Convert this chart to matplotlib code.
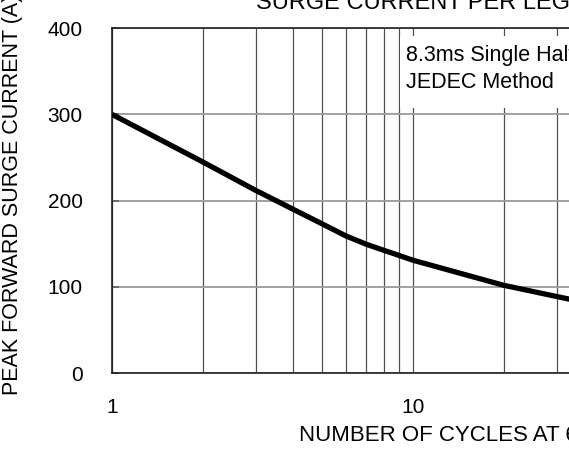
import matplotlib
matplotlib.use("Agg")
import matplotlib.pyplot as plt
import matplotlib.patches as patches

plt.rcParams['font.family'] = ['Liberation Sans', 'DejaVu Sans']

# data
cycles = [1, 2, 3, 4, 5, 6, 7, 8, 9, 10, 20, 30, 40]
current = [300, 245, 212, 190, 173, 159, 149.5, 142.5, 136.5, 131, 102, 89, 80]

yticks = [0, 100, 200, 300, 400]
xticks = [1, 10, 100]
xtick_labels = ['1', '10', '100']

fig = plt.figure(figsize=(5.69, 4.5), dpi=100)
# axes runs past the right edge of the picture (as in the reference)
ax = fig.add_axes([0.1968, 0.1704, 1.058, 0.7673])

ax.set_xscale('log')
ax.set_xlim(1, 100)
ax.set_ylim(0, 400)

# grid
ax.grid(True, which='both', axis='x', color='#505050', lw=0.9)
ax.grid(True, which='major', axis='y', color='#a0a0a0', lw=1.4)
ax.set_axisbelow(True)

ax.plot(cycles, current, color='black', lw=3.8, solid_capstyle='butt', zorder=3)

ax.set_yticks(yticks)
ax.set_yticklabels([str(v) for v in yticks])
ax.set_xticks(xticks)
ax.set_xticklabels(xtick_labels)
ax.tick_params(axis='y', direction='in', length=5, width=1.2, color='#606060',
               labelsize=15, pad=21)
ax.tick_params(axis='x', which='both', length=0, labelsize=15, pad=18)
ax.xaxis.set_minor_formatter(matplotlib.ticker.NullFormatter())

for s in ax.spines.values():
    s.set_linewidth(1.2)
    s.set_color('#202020')

# white box behind the note
box = patches.Rectangle((0.478, 0.768), 0.6, 0.209, transform=ax.transAxes,
                        facecolor='white', edgecolor='none', zorder=2)
ax.add_patch(box)
ax.text(0.489, 0.952, '8.3ms Single Half-Sine-Wave\nJEDEC Method',
        transform=ax.transAxes, ha='left', va='top', fontsize=15.5,
        linespacing=1.4, zorder=4)

ax.set_ylabel('PEAK FORWARD SURGE CURRENT (A)', fontsize=15.5)
ax.yaxis.set_label_coords(-0.148, 0.516)
ax.set_xlabel('NUMBER OF CYCLES AT 60Hz', fontsize=16, ha='left')
ax.xaxis.set_label_coords(0.31, -0.15)

fig.text(256 / 569, 1 - 9 / 450, 'SURGE CURRENT PER LEG', ha='left',
         va='baseline', fontsize=17)

fig.savefig('out.png', dpi=100)
